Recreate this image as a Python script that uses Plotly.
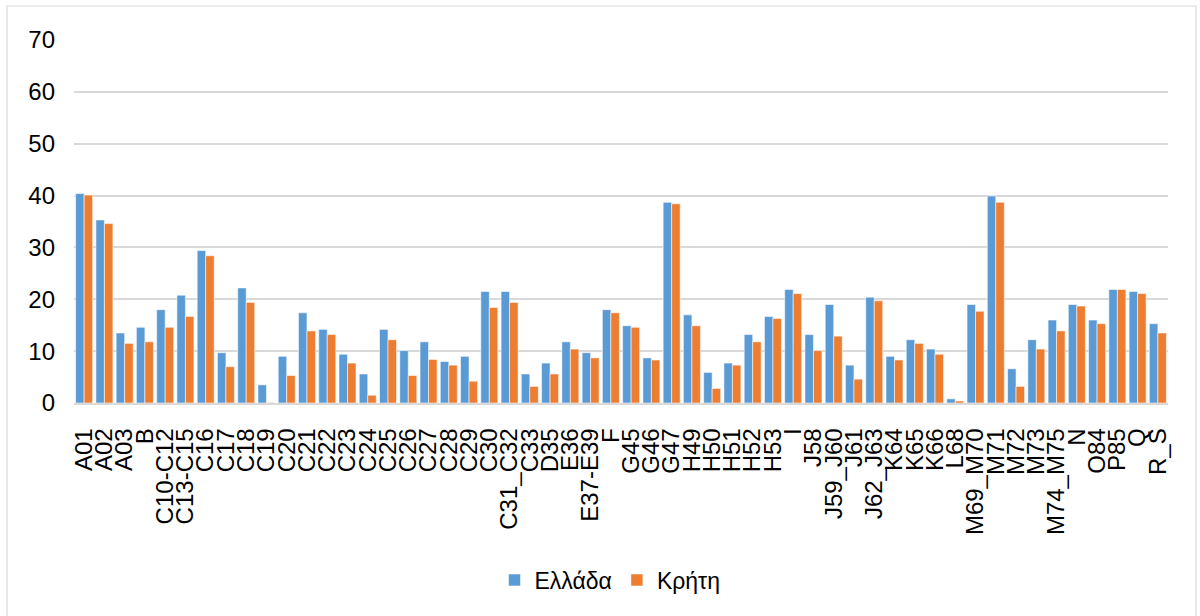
import plotly.graph_objects as go

# Sector codes along the horizontal axis
categories = [
    "A01", "A02", "A03", "B", "C10-C12", "C13-C15", "C16", "C17", "C18", "C19",
    "C20", "C21", "C22", "C23", "C24", "C25", "C26", "C27", "C28", "C29",
    "C30", "C31_C32", "C33", "D35", "E36", "E37-E39", "F", "G45", "G46", "G47",
    "H49", "H50", "H51", "H52", "H53", "I", "J58", "J59_J60", "J61", "J62_J63",
    "K64", "K65", "K66", "L68", "M69_M70", "M71", "M72", "M73", "M74_M75", "N",
    "O84", "P85", "Q", "R_S",
]

# Values for Greece (Ελλάδα)
greece = [
    40.4, 35.3, 13.5, 14.6, 18.0, 20.8, 29.4, 9.7, 22.2, 3.5,
    9.0, 17.4, 14.2, 9.4, 5.6, 14.2, 10.1, 11.8, 8.0, 9.0,
    21.5, 21.5, 5.6, 7.7, 11.8, 9.7, 18.0, 14.9, 8.7, 38.7,
    17.0, 5.9, 7.7, 13.2, 16.7, 21.9, 13.2, 19.0, 7.3, 20.4,
    9.0, 12.2, 10.4, 0.8, 19.0, 39.9, 6.6, 12.2, 16.0, 19.0,
    16.0, 21.9, 21.5, 15.3,
]

# Values for Crete (Κρήτη)
crete = [
    40.1, 34.6, 11.5, 11.8, 14.6, 16.7, 28.4, 7.0, 19.4, 0.1,
    5.3, 13.9, 13.2, 7.7, 1.5, 12.2, 5.3, 8.4, 7.3, 4.2,
    18.4, 19.4, 3.2, 5.6, 10.4, 8.7, 17.4, 14.6, 8.3, 38.4,
    14.9, 2.8, 7.3, 11.8, 16.3, 21.1, 10.1, 12.9, 4.6, 19.7,
    8.3, 11.5, 9.4, 0.4, 17.7, 38.7, 3.2, 10.4, 13.9, 18.7,
    15.3, 21.9, 21.1, 13.5,
]

y_ticks = [0, 10, 20, 30, 40, 50, 60, 70]

BLUE = "#5B9BD5"
ORANGE = "#ED7D31"
FONT = "Liberation Sans, Arial, sans-serif"

fig = go.Figure()
fig.add_trace(go.Bar(
    x=categories, y=greece, name="Ελλάδα",
    marker=dict(color=BLUE, line=dict(color="rgba(255,255,255,0.55)", width=1)),
))
fig.add_trace(go.Bar(
    x=categories, y=crete, name="Κρήτη",
    marker=dict(color=ORANGE, line=dict(color="rgba(255,255,255,0.55)", width=1)),
))

# Plot area geometry in pixels, used for the outer frame
L, R, T, B = 74, 32, 40, 213
W, H = 1200, 616
pw = W - L - R
ph = H - T - B


def px_x(p):
    return (p - L) / pw


def px_y(p):
    return (H - B - p) / ph


fig.update_layout(
    width=W, height=H,
    margin=dict(l=L, r=R, t=T, b=B),
    paper_bgcolor="white",
    plot_bgcolor="white",
    barmode="group",
    bargap=0.16,
    bargroupgap=0.0,
    font=dict(family=FONT, size=24, color="#000000"),
    showlegend=True,
    legend=dict(
        orientation="h",
        x=px_x(610), y=px_y(580),
        xanchor="center", yanchor="middle",
        font=dict(family=FONT, size=23, color="#000000"),
        itemwidth=30,
        tracegroupgap=0,
    ),
    xaxis=dict(
        type="category",
        tickmode="array",
        tickvals=categories,
        ticktext=categories,
        tickangle=-90,
        tickfont=dict(family=FONT, size=24, color="#000000"),
        showgrid=False,
        showline=True,
        linecolor="#D9D9D9",
        linewidth=1.5,
        ticks="",
        ticklabelstandoff=14,
        automargin=False,
    ),
    yaxis=dict(
        range=[0, 70],
        tickvals=y_ticks,
        tickfont=dict(family=FONT, size=24, color="#000000"),
        showgrid=True,
        gridcolor="#D9D9D9",
        gridwidth=1.5,
        zeroline=False,
        showline=False,
        ticks="",
        ticklabelstandoff=18,
        automargin=False,
    ),
    shapes=[
        dict(
            type="rect", xref="paper", yref="paper",
            x0=px_x(7), x1=px_x(1196), y0=px_y(625), y1=px_y(6),
            line=dict(color="#D9D9D9", width=1.2),
            fillcolor="rgba(0,0,0,0)",
            layer="below",
        )
    ],
)

fig.write_html("out.html")
